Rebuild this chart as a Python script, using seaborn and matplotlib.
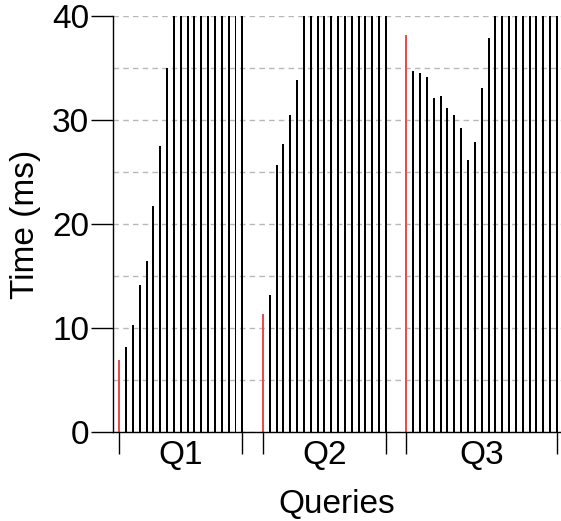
import pandas as pd
import seaborn as sns
import matplotlib.pyplot as plt

# bar heights (ms), bars above 40 are cut off by the axis
q1_times = [6.9, 8.2, 10.3, 14.1, 16.4, 21.7, 27.5, 35.0] + [60] * 11
q2_times = [11.3, 13.2, 25.7, 27.7, 30.5, 33.9] + [60] * 13
q3_times = [38.2, 34.7, 34.5, 34.1, 32.1, 32.3, 31.2, 30.5, 29.2, 26.2,
            27.9, 33.1, 37.9] + [60] * 10
queries = ["Q1", "Q2", "Q3"]
y_ticks = [0, 10, 20, 30, 40]

# build one table, groups separated by a small gap on the x axis
rows = []
start = 0
group_edges = []
group_mid = []
for q, times in zip(queries, [q1_times, q2_times, q3_times]):
    for i, t in enumerate(times):
        rows.append({"pos": start + i, "time": t, "query": q,
                     "kind": "first" if i == 0 else "rest"})
    end = start + len(times) - 1
    group_edges += [start, end]
    group_mid.append((start + end) / 2)
    start = end + 3
df = pd.DataFrame(rows)

sns.set_theme(style="white", rc={
    "text.color": "black", "axes.labelcolor": "black",
    "xtick.color": "black", "ytick.color": "black",
    "xtick.bottom": True, "ytick.left": True,
})
plt.rcParams["font.family"] = ["Liberation Sans", "DejaVu Sans"]

fig = plt.figure(figsize=(5.61, 5.21), dpi=100)
ax = fig.add_axes([0.201, 0.171, 0.799, 0.798])

sns.barplot(data=df, x="pos", y="time", hue="kind",
            palette={"first": "#ff3535", "rest": "black"},
            native_scale=True, width=0.29, dodge=False, errorbar=None,
            legend=False, linewidth=0, ax=ax)

ax.set_xlim(-0.95, 64.6)
ax.set_ylim(0, 40)

# grid every 5 ms
ax.set_yticks(y_ticks)
ax.set_yticks([5, 15, 25, 35], minor=True)
ax.grid(axis="y", which="both", ls=(0, (4, 3)), color="#b8b8b8", lw=1)
ax.set_axisbelow(True)

ax.set_xticks(group_edges)
ax.set_xticklabels([""] * len(group_edges))
ax.set_xticks(group_mid, minor=True)
ax.set_xticklabels(queries, minor=True)

ax.tick_params(axis="both", which="major", direction="out", length=16,
               width=1, labelsize=24, pad=1)
ax.tick_params(axis="x", which="minor", length=0, labelsize=24, pad=6)
ax.tick_params(axis="y", which="minor", length=0)

for s in ["top", "right"]:
    ax.spines[s].set_visible(False)
for s in ["left", "bottom"]:
    ax.spines[s].set_color("black")
    ax.spines[s].set_linewidth(1)

ax.set_xlabel("Queries", fontsize=24, labelpad=13)
ax.set_ylabel("Time (ms)", fontsize=24, labelpad=8)

fig.savefig("out.png", dpi=100)
